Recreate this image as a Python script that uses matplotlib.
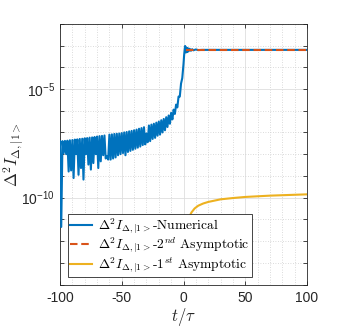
import numpy as np
import matplotlib
matplotlib.use("Agg")
import matplotlib.pyplot as plt
from matplotlib.ticker import FixedLocator, NullFormatter, FixedFormatter

# ---------------- data (log10 values) ----------------
# Numerical curve, dense oscillating part: t = -100 ... 0 step 1
num_t_osc = list(range(-100, 1))
num_log_osc = [
    -7.40, -11.35, -7.40, -7.95, -7.39, -8.00, -7.38, -8.80, -7.36, -8.75,   # -100..-91
    -7.35, -9.10, -7.33, -8.00, -7.32, -8.95, -7.30, -8.64, -7.29, -9.17,    # -90..-81
    -7.27, -8.00, -7.26, -8.48, -7.24, -8.71, -7.23, -8.41, -7.21, -8.00,    # -80..-71
    -7.19, -8.64, -7.17, -8.33, -7.16, -8.05, -7.14, -8.20, -8.10, -8.25,    # -70..-61
    -7.10, -8.25, -7.09, -8.20, -7.07, -8.15, -7.06, -8.05, -7.05, -8.00,    # -60..-51
    -7.03, -7.95, -7.00, -8.05, -6.98, -7.90, -6.95, -7.85, -6.93, -7.80,    # -50..-41
    -6.90, -7.75, -6.87, -7.70, -6.83, -7.65, -6.80, -7.58, -6.76, -7.55,    # -40..-31
    -7.05, -7.45, -6.68, -7.40, -6.64, -7.30, -6.60, -7.25, -6.55, -7.15,    # -30..-21
    -6.50, -7.10, -6.44, -7.00, -6.38, -6.90, -6.30, -6.75, -6.22, -6.60,    # -20..-11
    -6.10, -6.40, -5.95, -6.15, -5.72, -5.85, -5.35, -5.35, -4.75, -4.50,    # -10..-1
    -3.85,                                                                    # 0
]
# Numerical curve after the jump
num_t_post = [0.5, 1.0, 1.3, 1.6, 2.0, 2.5, 3.0, 3.5, 4.0, 5.0, 6.0, 7.0, 8.0,
              10.0, 12.0, 15.0, 20.0, 40.0, 60.0, 80.0, 100.0]
num_log_post = [-3.45, -3.15, -3.02, -3.08, -3.32, -3.10, -3.30, -3.12, -3.27,
                -3.15, -3.24, -3.17, -3.22, -3.18, -3.21, -3.20, -3.20, -3.20,
                -3.20, -3.20, -3.20]

# 2nd order asymptotic
asym2_t = [2.0, 100.0]
asym2_log = [-3.20, -3.20]

# 1st order asymptotic
asym1_t = [3.0, 3.4, 4.0, 5.0, 6.5, 9.0, 12.0, 16.0, 20.0, 30.0, 40.0,
           50.0, 60.0, 70.0, 80.0, 90.0, 100.0]
asym1_log = [-12.8, -11.8, -11.1, -10.85, -10.68, -10.50, -10.37,
             -10.27, -10.20, -10.08, -10.02, -9.97, -9.94, -9.91, -9.89,
             -9.87, -9.85]

labels = [r'$\Delta^2 I_{\Delta,|1{>}}$-Numerical',
          r'$\Delta^2 I_{\Delta,|1{>}}$-2$^{nd}$ Asymptotic',
          r'$\Delta^2 I_{\Delta,|1{>}}$-1$^{st}$ Asymptotic']
xticks = [-100, -50, 0, 50, 100]
xtick_labels = ['-100', '-50', '0', '50', '100']
yticks = [1e-10, 1e-5]
ytick_labels = [r'$\mathdefault{10^{-10}}$', r'$\mathdefault{10^{-5}}$']

# ---------------- style ----------------
plt.rcParams['font.family'] = ['Liberation Sans', 'DejaVu Sans']
plt.rcParams['mathtext.fontset'] = 'cm'
plt.rcParams['axes.unicode_minus'] = False

c_blue = '#0072BD'
c_orange = '#D95319'
c_yellow = '#EDB120'
c_axis = '#262626'

fig = plt.figure(figsize=(3.39, 3.27), dpi=100)
ax = fig.add_axes([60/339, 1 - 284.5/327, (307-60)/339, (284.5-23.8)/327])

num_t = num_t_osc + num_t_post
num_v = 10.0 ** np.array(num_log_osc + num_log_post)
ax.plot(num_t, num_v, color=c_blue, lw=1.5, label=labels[0], zorder=3)
ax.plot(asym2_t, 10.0 ** np.array(asym2_log), color=c_orange, lw=1.5,
        ls=(0, (3.6, 1.8)), label=labels[1], zorder=4)
ax.plot(asym1_t, 10.0 ** np.array(asym1_log), color=c_yellow, lw=1.5,
        label=labels[2], zorder=4)

ax.set_yscale('log')
ax.set_xlim(-100, 100)
ax.set_ylim(1e-14, 1e-2)

ax.xaxis.set_major_locator(FixedLocator(xticks))
ax.xaxis.set_major_formatter(FixedFormatter(xtick_labels))
ax.xaxis.set_minor_locator(FixedLocator([v for v in range(-90, 100, 10) if v % 50 != 0]))
ax.yaxis.set_major_locator(FixedLocator(yticks))
ax.yaxis.set_major_formatter(FixedFormatter(ytick_labels))
ax.yaxis.set_minor_locator(FixedLocator([10.0 ** e for e in range(-14, -1) if e not in (-5, -10)]))
ax.yaxis.set_minor_formatter(NullFormatter())

ax.grid(True, which='major', color='#dedede', lw=0.6, ls='-', zorder=0)
ax.grid(True, which='minor', color='#cfcfcf', lw=0.6, ls=(0, (1, 2)), zorder=0)
ax.set_axisbelow(True)

ax.tick_params(which='both', direction='in', top=True, right=True,
               length=3, width=0.6, color=c_axis, labelsize=10,
               labelcolor=c_axis)
ax.tick_params(axis='x', which='minor', length=0)
ax.tick_params(axis='x', pad=4.5)
for s in ax.spines.values():
    s.set_color(c_axis)
    s.set_linewidth(0.6)

ax.set_xlabel(r'$t/\tau$', fontsize=12, color=c_axis)
ax.xaxis.set_label_coords(0.5, -(316.5 - 284.5) / 260.7, transform=ax.transAxes)
ax.xaxis.label.set_va('center')
ax.set_ylabel(r'$\Delta^2 I_{\Delta,|1{>}}$', fontsize=12, color=c_axis)
ax.yaxis.set_label_coords(-(60 - 14) / 247, 0.5, transform=ax.transAxes)
ax.yaxis.label.set_va('center')

leg = ax.legend(loc='lower left', bbox_to_anchor=(8/247, 7.5/260.7),
                borderaxespad=0, fancybox=False, framealpha=1,
                edgecolor=c_axis, prop={'family': ['cmr10'], 'size': 9.7},
                handlelength=1.65, handletextpad=0.45, labelspacing=0.0,
                borderpad=0.15)
leg.get_frame().set_linewidth(0.6)
leg.set_zorder(10)

fig.savefig('out.png', dpi=100)
